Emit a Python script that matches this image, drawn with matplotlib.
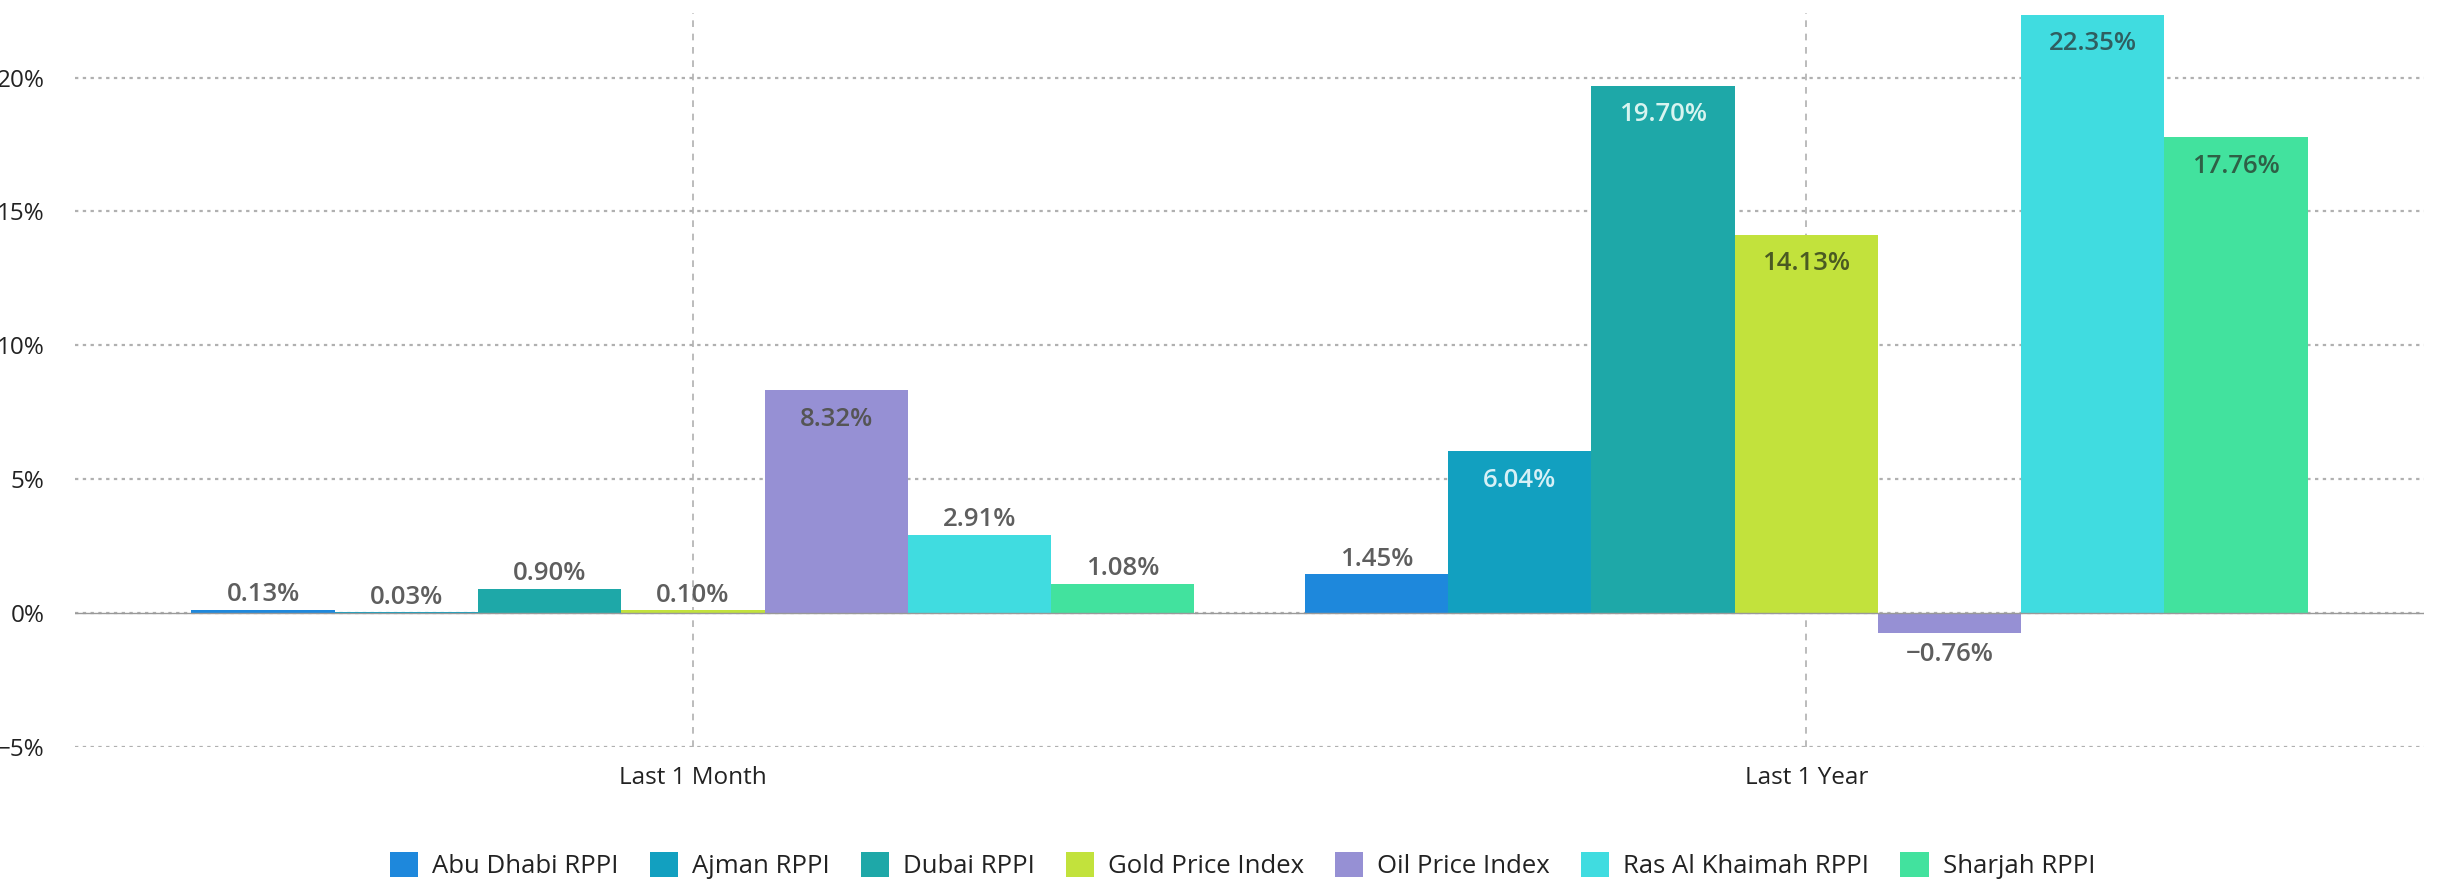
import matplotlib
matplotlib.use("Agg")
import matplotlib.pyplot as plt
import numpy as np
from matplotlib.patches import Patch

categories = ["Last 1 Month", "Last 1 Year"]
series_names = ["Abu Dhabi RPPI", "Ajman RPPI", "Dubai RPPI", "Gold Price Index",
                "Oil Price Index", "Ras Al Khaimah RPPI", "Sharjah RPPI"]
abu_dhabi = [0.13, 1.45]
ajman = [0.03, 6.04]
dubai = [0.90, 19.70]
gold = [0.10, 14.13]
oil = [8.32, -0.76]
ras_al_khaimah = [2.91, 22.35]
sharjah = [1.08, 17.76]
series_values = [abu_dhabi, ajman, dubai, gold, oil, ras_al_khaimah, sharjah]
y_ticks = [-5, 0, 5, 10, 15, 20]

colors = ["#1e88dc", "#12a0c0", "#1ea8a8", "#c2e23c", "#9690d4", "#40dce0", "#42e29e"]
inside_colors = ["#555555", "#d6f0f6", "#d8f4f0", "#4a5a22", "#555555", "#2f5e60", "#2e6046"]

plt.rcParams['font.family'] = ['Open Sans', 'DejaVu Sans']

fig = plt.figure(figsize=(24.42, 8.82), dpi=100)
ax = fig.add_axes([0.0307, 0.153, 0.962, 0.832])

x = np.arange(len(categories))
n = len(series_names)
width = 0.1287
for i, (name, vals) in enumerate(zip(series_names, series_values)):
    pos = x + (i - (n - 1) / 2) * width
    bars = ax.bar(pos, vals, width=width, color=colors[i], label=name, zorder=3)
    for b, v in zip(bars, vals):
        txt = f"{v:.2f}%".replace("-", "\u2212")
        cx = b.get_x() + b.get_width() / 2
        if v >= 3:
            ax.annotate(txt, (cx, v), xytext=(0, -21), textcoords="offset points",
                        ha="center", va="center", fontsize=18.5, fontweight="semibold",
                        color=inside_colors[i], zorder=5)
        elif v >= 0:
            ax.annotate(txt, (cx, v), xytext=(0, 11), textcoords="offset points",
                        ha="center", va="center", fontsize=18.5, fontweight="semibold",
                        color="#5e5e5e", zorder=5)
        else:
            ax.annotate(txt, (cx, v), xytext=(0, -15), textcoords="offset points",
                        ha="center", va="center", fontsize=18.5, fontweight="semibold",
                        color="#5e5e5e", zorder=5)

ax.set_xlim(-0.555, 1.555)
ax.set_ylim(-5, 22.4)
ax.set_yticks(y_ticks)
ax.set_yticklabels([f"{t}%".replace("-", "\u2212") for t in y_ticks])
ax.set_xticks(x)
ax.set_xticklabels(categories)
ax.tick_params(axis="both", length=0, labelsize=17.5, colors="#222222")
ax.tick_params(axis="y", pad=22)
ax.tick_params(axis="x", pad=14)
for s in ax.spines.values():
    s.set_visible(False)

ax.yaxis.grid(True, linestyle=(0, (1.5, 2)), color="#b0b0b0", linewidth=1.6, zorder=0)
ax.xaxis.grid(True, linestyle=(0, (4, 4)), color="#b0b0b0", linewidth=1.2, zorder=0)
ax.axhline(0, color="#999999", linewidth=1.0, zorder=4)

handles = [Patch(facecolor=c, label=nm) for c, nm in zip(colors, series_names)]
leg = ax.legend(handles=handles, loc="center", bbox_to_anchor=(0.497, -0.162),
                ncol=7, frameon=False, fontsize=18.5, handlelength=1.1, handleheight=1.1,
                handletextpad=0.55, columnspacing=1.2, borderaxespad=0)
for t in leg.get_texts():
    t.set_color("#222222")

fig.savefig("out.png", dpi=100, facecolor="white")
